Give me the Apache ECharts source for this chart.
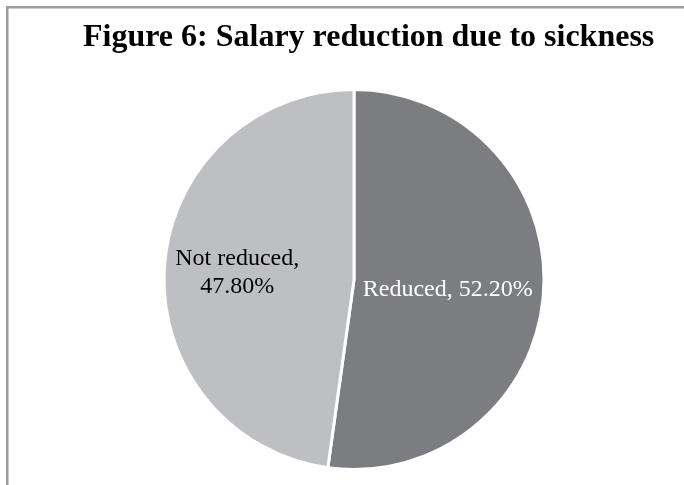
<!DOCTYPE html>
<html>
<head>
<meta charset="utf-8">
<script src="https://cdn.jsdelivr.net/npm/echarts@6/dist/echarts.min.js"></script>
<style>
  html, body { margin: 0; padding: 0; background: #fff; }
  #chart { width: 684px; height: 485px; }
</style>
</head>
<body>
<div id="chart"></div>
<script>
// Salary reduction due to sickness — share of respondents
const categories = ['Reduced', 'Not reduced'];
const shares = [52.2, 47.8];
const sliceColors = ['#7c7d81', '#bebfc2'];
const labelColors = ['#ffffff', '#000000'];

const serif = "'Liberation Serif', 'Times New Roman', serif";

// Per-slice label nudges (the two-line label sits further out)
const labelOffsets = [[-4, 3], [-19, 0]];

const pieData = categories.map((name, i) => ({
  name: name,
  value: shares[i],
  itemStyle: { color: sliceColors[i] },
  label: { color: labelColors[i], offset: labelOffsets[i] }
}));

const chart = echarts.init(document.getElementById('chart'), null, { renderer: 'canvas' });

chart.setOption({
  animation: false,
  backgroundColor: '#ffffff',
  title: {
    text: 'Figure 6: Salary reduction due to sickness',
    left: 83,
    top: 22,
    padding: 0,
    textStyle: {
      fontFamily: serif,
      fontWeight: 'bold',
      fontSize: 32,
      color: '#000000'
    }
  },
  graphic: [{
    type: 'rect',
    silent: true,
    shape: { x: 7.25, y: 7.25, width: 720, height: 520 },
    style: { fill: 'none', stroke: '#9c9c9c', lineWidth: 2.5 }
  }],
  series: [{
    type: 'pie',
    center: [354, 279.5],
    radius: [0, 190],
    startAngle: 90,
    clockwise: true,
    data: pieData,
    itemStyle: { borderColor: '#ffffff', borderWidth: 3 },
    label: {
      show: true,
      position: 'inside',
      fontFamily: serif,
      fontSize: 24,
      lineHeight: 28,
      align: 'center',
      formatter: function (p) {
        const pct = p.value.toFixed(2) + '%';
        return p.name === 'Not reduced' ? p.name + ',\n' + pct : p.name + ', ' + pct;
      }
    },
    labelLine: { show: false },
    emphasis: { disabled: true }
  }]
});
</script>
</body>
</html>
